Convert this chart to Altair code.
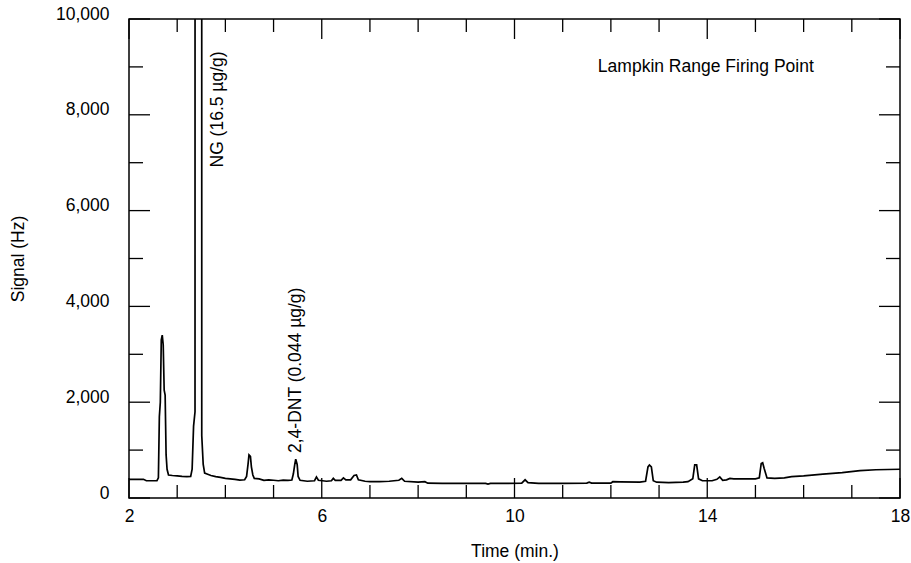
import altair as alt
import pandas as pd

# Chromatogram trace (time in minutes, signal in Hz)
time_min = [2.00, 2.30, 2.36, 2.58, 2.61, 2.63, 2.65, 2.67, 2.69, 2.71, 2.73, 2.75, 2.77, 2.79, 2.82,
            2.90, 3.00, 3.10, 3.20, 3.28, 3.31, 3.34, 3.37, 3.372, 3.508, 3.51, 3.54, 3.57, 3.62, 3.70,
            3.80, 3.90, 4.00, 4.10, 4.20, 4.30, 4.40, 4.44, 4.47, 4.49, 4.52, 4.54, 4.57, 4.60, 4.70,
            4.80, 4.90, 5.00, 5.10, 5.20, 5.30, 5.38, 5.41, 5.44, 5.46, 5.49, 5.51, 5.55, 5.70, 5.85,
            5.89, 5.93, 6.10, 6.20, 6.24, 6.28, 6.40, 6.45, 6.50, 6.60, 6.67, 6.72, 6.76, 6.90, 7.00,
            7.20, 7.40, 7.60, 7.66, 7.72, 8.00, 8.14, 8.20, 8.50, 9.00, 9.40, 9.45, 9.50, 9.80, 10.15,
            10.22, 10.28, 10.50, 11.00, 11.50, 11.55, 11.60, 12.00, 12.04, 12.20, 12.60, 12.72, 12.77,
            12.80, 12.84, 12.88, 12.95, 13.20, 13.50, 13.60, 13.70, 13.74, 13.78, 13.82, 13.90, 14.10,
            14.20, 14.26, 14.32, 14.40, 14.47, 14.55, 15.00, 15.08, 15.12, 15.15, 15.18, 15.24, 15.40,
            15.60, 15.75, 16.00, 16.40, 16.80, 17.17, 17.50, 18.00]
signal_hz = [390, 390, 360, 360, 420, 1700, 2000, 3300, 3400, 3200, 2250, 2150, 900, 600, 480,
             470, 460, 450, 445, 450, 600, 1500, 1800, 30000, 30000, 1300, 700, 520, 500, 470,
             445, 430, 410, 400, 390, 375, 380, 450, 700, 900, 870, 650, 480, 410, 400,
             370, 380, 370, 360, 375, 370, 375, 500, 700, 810, 700, 450, 370, 350, 360,
             440, 370, 350, 360, 410, 370, 370, 420, 380, 380, 470, 480, 380, 350, 340,
             340, 350, 370, 410, 350, 330, 340, 310, 305, 305, 305, 290, 305, 305, 310,
             380, 320, 305, 305, 310, 330, 310, 310, 340, 335, 330, 350, 650,
             690, 650, 360, 330, 320, 330, 340, 400, 690, 690, 400, 360, 360,
             390, 440, 370, 380, 410, 400, 400, 420, 720, 737, 620, 420, 410,
             420, 445, 460, 500, 530, 570, 590, 600]

# Axis tick values
x_major = [2, 6, 10, 14, 18]
x_minor = [3, 4, 5, 7, 8, 9, 11, 12, 13, 15, 16, 17]
y_major = [0, 2000, 4000, 6000, 8000, 10000]
y_minor = [1000, 3000, 5000, 7000, 9000]

# Peak annotations
ann_labels = ["NG (16.5 µg/g)", "2,4-DNT (0.044 µg/g)"]
ann_time = [3.85, 5.46]
ann_signal = [6900, 940]

panel_label = ["Lampkin Range Firing Point"]
panel_time = [11.73]
panel_signal = [8890]

W, H = 771, 479
FONT = "Liberation Sans"
FS = 17.5

xs = alt.Scale(domain=[2, 18], nice=False, zero=False)
ys = alt.Scale(domain=[0, 10000], nice=False)

trace = pd.DataFrame({"t": time_min, "s": signal_hz})

line = alt.Chart(trace).mark_line(color="black", strokeWidth=1.7, clip=True, interpolate="linear").encode(
    x=alt.X("t:Q", scale=xs, axis=alt.Axis(values=x_major, labelExpr="format(datum.value, 'd')",
                                            ticks=False, domain=False, grid=False, labelFlush=False,
                                            labelPadding=9, title="Time (min.)", titlePadding=18)),
    y=alt.Y("s:Q", scale=ys, axis=alt.Axis(values=y_major, labelExpr="format(datum.value, ',')",
                                            ticks=False, domain=False, grid=False, labelFlush=False,
                                            labelPadding=20, labelOffset=-5, title="Signal (Hz)", titlePadding=28)),
)

def xticks(vals, length):
    df = pd.DataFrame({"t": vals})
    base = alt.Chart(df).mark_rule(color="black", strokeWidth=1.3)
    bottom = base.encode(x=alt.X("t:Q", scale=xs), y=alt.value(H), y2=alt.value(H - length))
    top = base.encode(x=alt.X("t:Q", scale=xs), y=alt.value(0), y2=alt.value(length))
    return [bottom, top]

def yticks(vals, length):
    df = pd.DataFrame({"s": vals})
    base = alt.Chart(df).mark_rule(color="black", strokeWidth=1.3)
    left = base.encode(y=alt.Y("s:Q", scale=ys), x=alt.value(0), x2=alt.value(length))
    right = base.encode(y=alt.Y("s:Q", scale=ys), x=alt.value(W), x2=alt.value(W - length))
    return [left, right]

tick_layers = xticks(x_major, 20) + xticks(x_minor, 13) + yticks(y_major, 21) + yticks(y_minor, 14)

ann = pd.DataFrame({"label": ann_labels, "t": ann_time, "s": ann_signal})
ann_text = alt.Chart(ann).mark_text(angle=270, align="left", baseline="middle", font=FONT, fontSize=FS,
                                     color="black").encode(
    x=alt.X("t:Q", scale=xs), y=alt.Y("s:Q", scale=ys), text="label:N")

panel = pd.DataFrame({"label": panel_label, "t": panel_time, "s": panel_signal})
panel_text = alt.Chart(panel).mark_text(align="left", baseline="alphabetic", font=FONT, fontSize=FS,
                                         color="black").encode(
    x=alt.X("t:Q", scale=xs), y=alt.Y("s:Q", scale=ys), text="label:N")

chart = alt.layer(line, *tick_layers, ann_text, panel_text).properties(
    width=W, height=H,
    background="white",
    autosize=alt.AutoSizeParams(type="none"),
    padding={"left": 129, "top": 19, "right": 11, "bottom": 65},
).configure_view(stroke="black", strokeWidth=1.5).configure_axis(
    labelFont=FONT, labelFontSize=FS, labelColor="black",
    titleFont=FONT, titleFontSize=FS, titleFontWeight="normal", titleColor="black",
)

chart.save("out.html", embed_options={"renderer": "svg", "actions": False})
